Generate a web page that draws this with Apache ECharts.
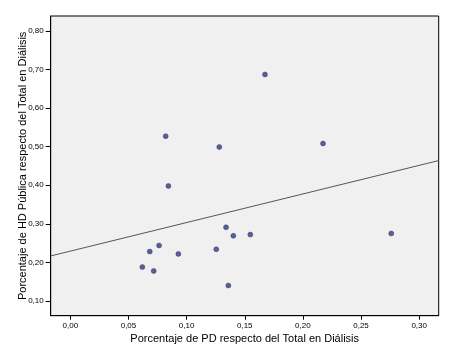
<!DOCTYPE html>
<html><head><meta charset="utf-8">
<script src="https://cdn.jsdelivr.net/npm/echarts@6/dist/echarts.min.js"></script>
<style>html,body{margin:0;padding:0;background:#fff}#c{width:449px;height:347px}</style>
</head><body><div id="c"></div>
<script>
const pdShare = [0.1674,0.0820,0.1281,0.2173,0.0843,0.1339,0.1402,0.1548,0.0763,0.0683,0.0929,0.1255,0.0619,0.0717,0.1359,0.2760];
const hdShare = [0.687,0.527,0.499,0.508,0.398,0.291,0.269,0.272,0.244,0.228,0.222,0.234,0.188,0.178,0.140,0.275];
const xTicks = [0,0.05,0.10,0.15,0.20,0.25,0.30];
const yTicks = [0.10,0.20,0.30,0.40,0.50,0.60,0.70,0.80];
const xMin = -0.0169, xMax = 0.3168, yMin = 0.0619, yMax = 0.8383;
const xName = 'Porcentaje de PD respecto del Total en Diálisis';
const yName = 'Porcentaje de HD Pública respecto del Total en Diálisis';

// least squares fit
const n = pdShare.length;
const mx = pdShare.reduce((a,b)=>a+b,0)/n, my = hdShare.reduce((a,b)=>a+b,0)/n;
let sxy=0,sxx=0;
for(let i=0;i<n;i++){sxy+=(pdShare[i]-mx)*(hdShare[i]-my);sxx+=(pdShare[i]-mx)**2;}
const slope=sxy/sxx, icpt=my-slope*mx;
const fit=[[xMin,icpt+slope*xMin],[xMax,icpt+slope*xMax]];

const fmt = v => v.toFixed(2).replace('.',',');
const lblFont = {fontFamily:'Liberation Sans',fontSize:8,color:'#000'};
const chart = echarts.init(document.getElementById('c'));
chart.setOption({
  animation:false,
  grid:{left:50.7,right:10.3,top:16,bottom:31.3,show:true,outerBoundsMode:'none',containLabel:false,
        backgroundColor:'#f0f0f0',borderColor:'#000',borderWidth:1},
  xAxis:{type:'value',min:xMin,max:xMax,splitLine:{show:false},
    axisLine:{show:true,onZero:false,lineStyle:{color:'#000'}},
    axisTick:{show:true,length:4,customValues:xTicks,lineStyle:{color:'#000'}},
    axisLabel:Object.assign({customValues:xTicks,formatter:fmt,margin:6},lblFont),
    name:xName,nameLocation:'middle',nameGap:23.5,nameMoveOverlap:false,
    nameTextStyle:{fontFamily:'Liberation Sans',fontSize:11,color:'#000',verticalAlign:'middle'}},
  yAxis:{type:'value',min:yMin,max:yMax,splitLine:{show:false},
    axisLine:{show:true,onZero:false,lineStyle:{color:'#000'}},
    axisTick:{show:true,length:5,customValues:yTicks,lineStyle:{color:'#000'}},
    axisLabel:Object.assign({customValues:yTicks,formatter:fmt,margin:7},lblFont),
    name:yName,nameLocation:'middle',nameGap:27.5,nameMoveOverlap:false,
    nameTextStyle:{fontFamily:'Liberation Sans',fontSize:11,color:'#000',verticalAlign:'middle'}},
  series:[
    {type:'line',data:fit,symbol:'none',lineStyle:{color:'#555',width:1},silent:true,z:1},
    {type:'scatter',data:pdShare.map((x,i)=>[x,hdShare[i]]),symbol:'circle',symbolSize:5,
     itemStyle:{color:'#333d7c',borderColor:'#262e6a',borderWidth:0.5},z:2}
  ]
});
</script></body></html>
